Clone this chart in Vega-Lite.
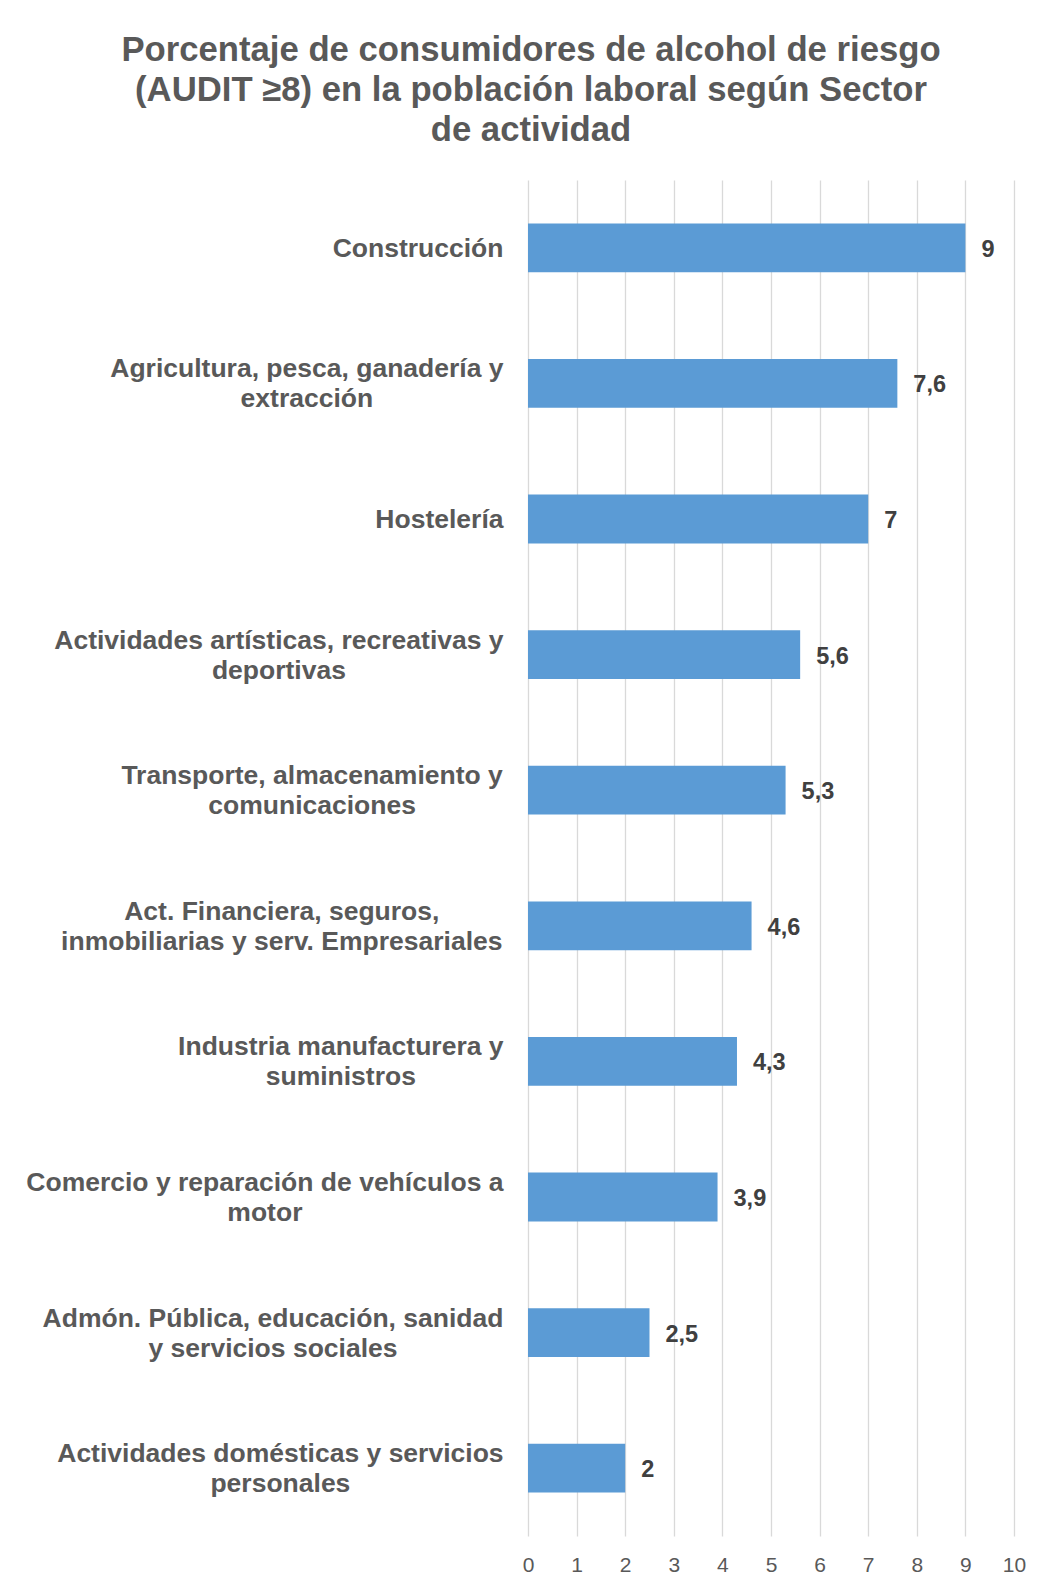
{
  "$schema": "https://vega.github.io/schema/vega-lite/v6.json",
  "autosize": {"type": "none"},
  "width": 486,
  "height": 1356,
  "padding": {"left": 528, "top": 180, "right": 29, "bottom": 52},
  "background": "white",
  "title": {
    "text": ["Porcentaje de consumidores de alcohol de riesgo", "(AUDIT ≥8) en la población laboral según Sector", "de actividad"],
    "font": "Liberation Sans",
    "fontSize": 34.7,
    "fontWeight": "bold",
    "color": "#595959",
    "lineHeight": 40,
    "anchor": "middle",
    "frame": "group",
    "dx": -240,
    "offset": 31
  },
  "config": {
    "locale": {"number": {"decimal": ",", "thousands": ".", "grouping": [3], "currency": ["", " €"]}},
    "view": {"stroke": null}
  },
  "data": {
    "values": [
      {"sector": "Construcción", "pct": 9},
      {"sector": "Agricultura, pesca, ganadería y|extracción", "pct": 7.6},
      {"sector": "Hostelería", "pct": 7},
      {"sector": "Actividades artísticas, recreativas y|deportivas", "pct": 5.6},
      {"sector": "Transporte, almacenamiento y|comunicaciones", "pct": 5.3},
      {"sector": "Act. Financiera, seguros,|inmobiliarias y serv. Empresariales", "pct": 4.6},
      {"sector": "Industria manufacturera y|suministros", "pct": 4.3},
      {"sector": "Comercio y reparación de vehículos a|motor", "pct": 3.9},
      {"sector": "Admón. Pública, educación, sanidad|y servicios sociales", "pct": 2.5},
      {"sector": "Actividades domésticas y servicios|personales", "pct": 2}
    ]
  },
  "encoding": {
    "y": {
      "field": "sector",
      "type": "nominal",
      "sort": null,
      "scale": {"paddingInner": 0.64, "paddingOuter": 0.32},
      "axis": {
        "title": null,
        "domain": false,
        "ticks": false,
        "labelExpr": "split(datum.label, '|')",
        "labelFont": "Liberation Sans",
        "labelFontSize": 26.5,
        "labelFontWeight": "bold",
        "labelColor": "#595959",
        "labelLineHeight": 30,
        "labelAlign": "center",
        "labelBaseline": "middle",
        "labelLimit": 1000,
        "labelPadding": {
          "condition": [
            {"test": "indexof(datum.value, 'Construcci') === 0", "value": 110.4},
            {"test": "indexof(datum.value, 'Agricultura') === 0", "value": 221.6},
            {"test": "indexof(datum.value, 'Hosteler') === 0", "value": 89.1},
            {"test": "indexof(datum.value, 'Actividades art') === 0", "value": 249.6},
            {"test": "indexof(datum.value, 'Transporte') === 0", "value": 216.4},
            {"test": "indexof(datum.value, 'Act. Financiera') === 0", "value": 246.7},
            {"test": "indexof(datum.value, 'Industria') === 0", "value": 187.7},
            {"test": "indexof(datum.value, 'Comercio') === 0", "value": 263.6},
            {"test": "indexof(datum.value, 'Adm') === 0", "value": 255.5}
          ],
          "value": 248.1
        },
        "labelOffset": {"condition": {"test": "indexof(datum.value, '|') >= 0", "value": -14}, "value": 1}
      }
    },
    "x": {
      "field": "pct",
      "type": "quantitative",
      "scale": {"domain": [0, 10], "nice": false},
      "axis": {
        "title": null,
        "domain": false,
        "ticks": false,
        "values": [0, 1, 2, 3, 4, 5, 6, 7, 8, 9, 10],
        "format": "d",
        "grid": true,
        "gridColor": "#d9d9d9",
        "gridWidth": 1.3,
        "labelFont": "Liberation Sans",
        "labelFontSize": 21,
        "labelColor": "#595959",
        "labelPadding": 18,
        "labelFlush": false,
        "labelOverlap": false
      }
    }
  },
  "layer": [
    {"mark": {"type": "bar", "color": "#5b9bd5"}},
    {
      "mark": {"type": "text", "align": "left", "baseline": "middle", "dx": 16, "dy": 2, "font": "Liberation Sans", "fontSize": 23.5, "fontWeight": "bold", "color": "#404040"},
      "encoding": {"text": {"field": "pct", "type": "quantitative", "format": "~r"}}
    }
  ]
}
